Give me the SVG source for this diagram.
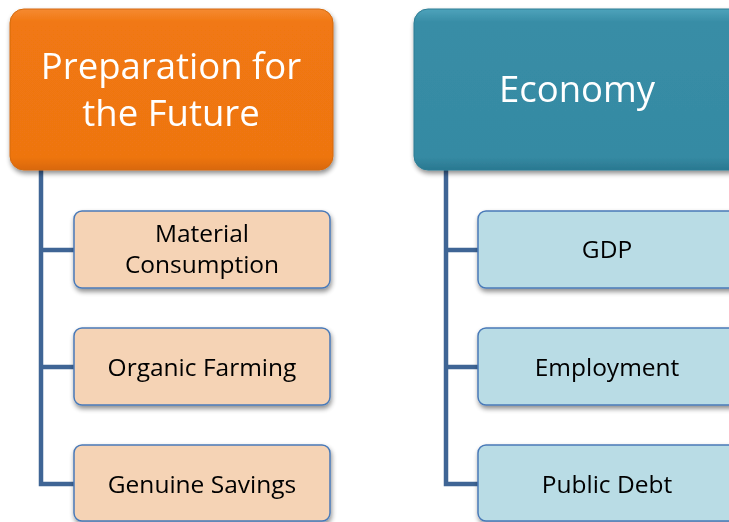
<svg xmlns="http://www.w3.org/2000/svg" width="729" height="522" viewBox="0 0 729 522">
<defs>
<filter id="sh" x="-10%" y="-10%" width="130%" height="140%">
<feGaussianBlur in="SourceAlpha" stdDeviation="2.5"/>
<feOffset dx="1" dy="3" result="b"/>
<feComponentTransfer><feFuncA type="linear" slope="0.45"/></feComponentTransfer>
<feMerge><feMergeNode/><feMergeNode in="SourceGraphic"/></feMerge>
</filter>
<linearGradient id="gO" x1="0" y1="0" x2="0" y2="1">
<stop offset="0" stop-color="#f58a32"/>
<stop offset="0.08" stop-color="#f17812"/>
<stop offset="0.92" stop-color="#ee7511"/>
<stop offset="1" stop-color="#d9680c"/>
</linearGradient>
<linearGradient id="gT" x1="0" y1="0" x2="0" y2="1">
<stop offset="0" stop-color="#4ea3bb"/>
<stop offset="0.08" stop-color="#388da6"/>
<stop offset="0.92" stop-color="#358aa3"/>
<stop offset="1" stop-color="#2a7890"/>
</linearGradient>
</defs>
<style>
.hdr{font-family:"Open Sans","Liberation Sans",sans-serif;fill:#fff;text-anchor:middle;font-size:36.5px}
.lbl{font-family:"Open Sans","Liberation Sans",sans-serif;fill:#000;font-size:24.5px;text-anchor:middle}
.co{fill:#f5d3b5;stroke:#4a7ab8;stroke-width:1.5}
.ct{fill:#b9dce5;stroke:#4a7ab8;stroke-width:1.5}
.ln{fill:none;stroke:#3f6595;stroke-width:4.5}
</style>
<g id="connectors">
<path class="ln" d="M41 170 V484 H75 M41 250 H75 M41 367 H75"/>
<path class="ln" d="M446 170 V484 H479 M446 250 H479 M446 367 H479"/>
</g>
<g id="prep" filter="url(#sh)">
<rect x="10" y="9" width="323" height="161" rx="14" fill="url(#gO)" stroke="#d46a10" stroke-width="1"/>
<text class="hdr" x="171" y="79">Preparation for</text>
<text class="hdr" x="171" y="126">the Future</text>
</g>
<g id="economy" filter="url(#sh)">
<rect x="414" y="9" width="330" height="161" rx="14" fill="url(#gT)" stroke="#2d7d94" stroke-width="1"/>
<text class="hdr" x="577" y="102">Economy</text>
</g>
<g id="material" filter="url(#sh)">
<rect class="co" x="74" y="211" width="256" height="77" rx="8"/>
<text class="lbl" x="202" y="242">Material</text>
<text class="lbl" x="202" y="273">Consumption</text>
</g>
<g id="organic" filter="url(#sh)">
<rect class="co" x="74" y="328" width="256" height="77" rx="8"/>
<text class="lbl" x="202" y="376">Organic Farming</text>
</g>
<g id="savings" filter="url(#sh)">
<rect class="co" x="74" y="445" width="256" height="76" rx="8"/>
<text class="lbl" x="202" y="493">Genuine Savings</text>
</g>
<g id="gdp" filter="url(#sh)">
<rect class="ct" x="478" y="211" width="262" height="77" rx="8"/>
<text class="lbl" x="607" y="258">GDP</text>
</g>
<g id="employment" filter="url(#sh)">
<rect class="ct" x="478" y="328" width="262" height="77" rx="8"/>
<text class="lbl" x="607" y="376">Employment</text>
</g>
<g id="debt" filter="url(#sh)">
<rect class="ct" x="478" y="445" width="262" height="76" rx="8"/>
<text class="lbl" x="607" y="493">Public Debt</text>
</g>
</svg>
